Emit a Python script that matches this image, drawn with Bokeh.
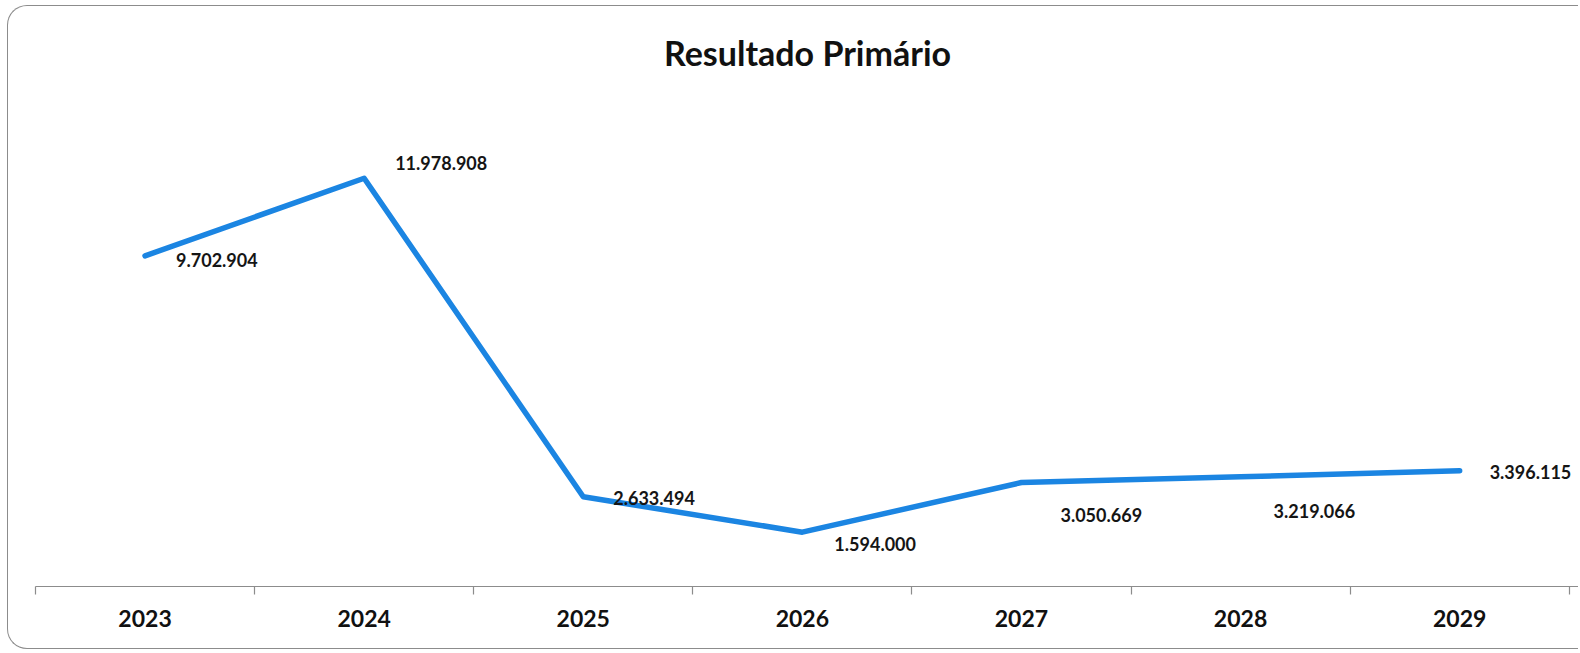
from bokeh.plotting import figure
from bokeh.models import Range1d, FixedTicker, Title, ColumnDataSource
from bokeh.core.properties import value
from bokeh.embed import file_html
from bokeh.resources import INLINE

# ---- data ----
years = [2023, 2024, 2025, 2026, 2027, 2028, 2029]
resultado = [9702904, 11978908, 2633494, 1594000, 3050669, 3219066, 3396115]
title_text = "Resultado Primário"

# ---- label placement (screen px, style only) ----
label_dx = [31, 31, 30, 32, 39, 33, 30]
label_dy = [4, -15, 1, 12, 32, 34, 1]

FONT = "Lato"
W, H = 1571, 644
frame_left, frame_right = 27, 1571
frame_top, frame_bottom = 93, 580
cat_px = 219.1
x_start = years[0] - 0.5
x_end = x_start + (frame_right - frame_left) / cat_px
px_per_unit = 34.15 / 1e6
y_end = (frame_bottom - frame_top) / px_per_unit

p = figure(width=W, height=H, output_backend="svg", toolbar_location=None,
           x_range=Range1d(x_start, x_end), y_range=Range1d(0, y_end),
           y_axis_location=None,
           min_border_left=frame_left, min_border_right=W - frame_right,
           min_border_top=frame_top, min_border_bottom=H - frame_bottom)
p.outline_line_color = None
p.xgrid.visible = False
p.ygrid.visible = False
p.background_fill_color = None
p.border_fill_color = None
p.styles = {
    "margin-left": "7px",
    "margin-top": "5px",
    "border-left": "1.5px solid #8c8c8c",
    "border-top": "1.5px solid #8c8c8c",
    "border-bottom": "1.5px solid #8c8c8c",
    "border-right": "none",
    "border-radius": "20px 0 0 20px",
    "background-color": "white",
}

p.title = Title(text=title_text, align="center", vertical_align="top",
                text_font=FONT, text_font_size="34px",
                text_font_style="bold", text_color="#111111", standoff=51)

src = ColumnDataSource(dict(
    x=years, y=resultado,
    label=[f"{v:,}".replace(",", ".") for v in resultado],
    dx=label_dx, dy=label_dy,
))

p.line("x", "y", source=src, line_color="#1b85e2", line_width=5.5,
       line_join="round", line_cap="round")
p.text("x", "y", text="label", source=src, x_offset="dx", y_offset="dy",
       text_font=value(FONT), text_font_style="bold", text_font_size="18px",
       text_color="#151515", text_align="left", text_baseline="middle")

ax = p.xaxis[0]
ax.ticker = FixedTicker(ticks=years, minor_ticks=[y - 0.5 for y in years] + [years[-1] + 0.5])
ax.major_tick_line_color = None
ax.major_tick_out = 0
ax.major_tick_in = 0
ax.minor_tick_line_color = "#8c8c8c"
ax.minor_tick_out = 8
ax.minor_tick_in = 0
ax.minor_tick_line_width = 1.2
ax.axis_line_color = "#8c8c8c"
ax.axis_line_width = 1.2
ax.major_label_standoff = 15
ax.major_label_text_font = FONT
ax.major_label_text_font_style = "bold"
ax.major_label_text_font_size = "23px"
ax.major_label_text_color = "#111111"

open("out.html", "w").write(file_html(p, INLINE))
